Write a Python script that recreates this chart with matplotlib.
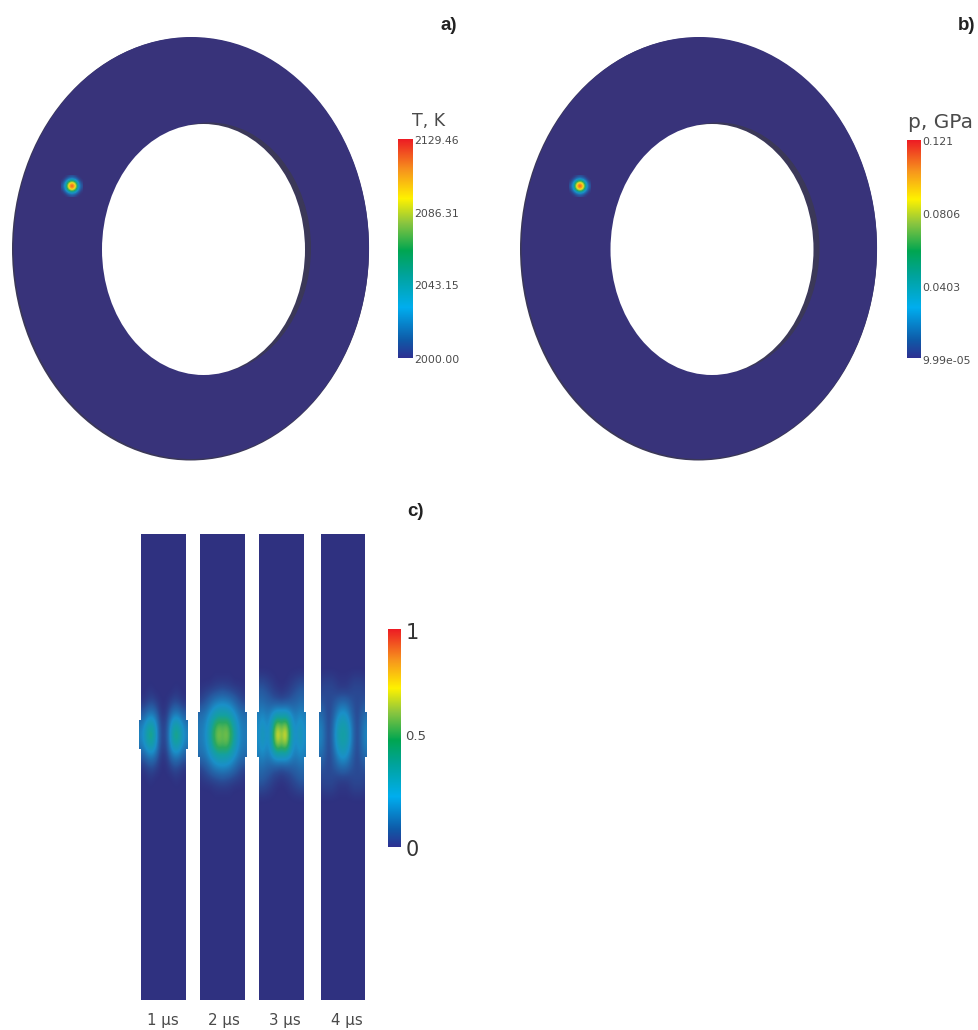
import numpy as np
import matplotlib
matplotlib.use('Agg')
import matplotlib.pyplot as plt
from matplotlib.colors import LinearSegmentedColormap
from matplotlib.patches import Ellipse, Polygon, Rectangle

# Colour scale
escala_pos = [0.0, 0.08, 0.23, 0.38, 0.49, 0.62, 0.73, 0.86, 1.0]
escala_cor = ['#2e3192', '#0f5aa8', '#00aeef', '#00a39a', '#00a651',
              '#8dc63f', '#fff200', '#f7941d', '#ed1c24']
# the fields themselves look duller than the bars
escala_campo = ['#2f3180', '#27589f', '#1a90c8', '#14a0a0', '#2aa860',
                '#8dc63f', '#f5e020', '#f7941d', '#ed1c24']

# Colour bar labels
rotulos_T = ['2129.46', '2086.31', '2043.15', '2000.00']
rotulos_p = ['0.121', '0.0806', '0.0403', '9.99e-05']
rotulos_c = ['1', '0.5', '0']
tempos = ['1 µs', '2 µs', '3 µs', '4 µs']

# Hot spot (normalised), same in a) and b)
ponto_quente = [
    [0.00, 0.00, 0.03, 0.06, 0.03, 0.00, 0.00],
    [0.00, 0.07, 0.24, 0.32, 0.24, 0.07, 0.00],
    [0.03, 0.24, 0.66, 0.86, 0.66, 0.24, 0.03],
    [0.06, 0.32, 0.86, 1.00, 0.86, 0.32, 0.06],
    [0.03, 0.24, 0.66, 0.86, 0.66, 0.24, 0.03],
    [0.00, 0.07, 0.24, 0.32, 0.24, 0.07, 0.00],
    [0.00, 0.00, 0.03, 0.06, 0.03, 0.00, 0.00],
]

# Field in the middle part of each strip (rows top to bottom, columns left to right)
campo_1 = [
    [0.00, 0.00, 0.00, 0.00, 0.00, 0.00, 0.00, 0.00, 0.00, 0.00, 0.00, 0.00, 0.00],
    [0.00, 0.00, 0.00, 0.00, 0.00, 0.00, 0.00, 0.00, 0.00, 0.00, 0.00, 0.00, 0.00],
    [0.00, 0.00, 0.01, 0.01, 0.00, 0.00, 0.00, 0.00, 0.00, 0.01, 0.01, 0.00, 0.00],
    [0.01, 0.02, 0.04, 0.05, 0.03, 0.01, 0.00, 0.01, 0.03, 0.05, 0.04, 0.02, 0.01],
    [0.08, 0.10, 0.15, 0.16, 0.11, 0.03, 0.01, 0.03, 0.11, 0.16, 0.15, 0.10, 0.08],
    [0.16, 0.22, 0.32, 0.34, 0.24, 0.07, 0.03, 0.07, 0.24, 0.34, 0.32, 0.22, 0.16],
    [0.20, 0.28, 0.44, 0.46, 0.29, 0.08, 0.04, 0.08, 0.29, 0.46, 0.44, 0.28, 0.20],
    [0.16, 0.22, 0.32, 0.34, 0.24, 0.07, 0.03, 0.07, 0.24, 0.34, 0.32, 0.22, 0.16],
    [0.08, 0.10, 0.15, 0.16, 0.11, 0.03, 0.01, 0.03, 0.11, 0.16, 0.15, 0.10, 0.08],
    [0.01, 0.02, 0.04, 0.05, 0.03, 0.01, 0.00, 0.01, 0.03, 0.05, 0.04, 0.02, 0.01],
    [0.00, 0.00, 0.01, 0.01, 0.00, 0.00, 0.00, 0.00, 0.00, 0.01, 0.01, 0.00, 0.00],
    [0.00, 0.00, 0.00, 0.00, 0.00, 0.00, 0.00, 0.00, 0.00, 0.00, 0.00, 0.00, 0.00],
    [0.00, 0.00, 0.00, 0.00, 0.00, 0.00, 0.00, 0.00, 0.00, 0.00, 0.00, 0.00, 0.00],
]
campo_2 = [
    [0.00, 0.00, 0.00, 0.00, 0.00, 0.00, 0.00, 0.00, 0.00, 0.00, 0.00, 0.00, 0.00],
    [0.00, 0.00, 0.00, 0.00, 0.01, 0.01, 0.01, 0.01, 0.01, 0.00, 0.00, 0.00, 0.00],
    [0.01, 0.02, 0.03, 0.04, 0.05, 0.06, 0.07, 0.06, 0.05, 0.04, 0.03, 0.02, 0.01],
    [0.04, 0.06, 0.09, 0.13, 0.17, 0.19, 0.20, 0.19, 0.17, 0.13, 0.09, 0.06, 0.04],
    [0.13, 0.14, 0.18, 0.24, 0.30, 0.34, 0.34, 0.34, 0.30, 0.24, 0.18, 0.14, 0.13],
    [0.16, 0.18, 0.24, 0.36, 0.48, 0.54, 0.52, 0.54, 0.48, 0.36, 0.24, 0.18, 0.16],
    [0.17, 0.19, 0.27, 0.42, 0.53, 0.62, 0.56, 0.62, 0.53, 0.42, 0.27, 0.19, 0.17],
    [0.16, 0.18, 0.24, 0.36, 0.48, 0.54, 0.52, 0.54, 0.48, 0.36, 0.24, 0.18, 0.16],
    [0.13, 0.14, 0.18, 0.24, 0.30, 0.34, 0.34, 0.34, 0.30, 0.24, 0.18, 0.14, 0.13],
    [0.04, 0.06, 0.09, 0.13, 0.17, 0.19, 0.20, 0.19, 0.17, 0.13, 0.09, 0.06, 0.04],
    [0.01, 0.02, 0.03, 0.04, 0.05, 0.06, 0.07, 0.06, 0.05, 0.04, 0.03, 0.02, 0.01],
    [0.00, 0.00, 0.00, 0.00, 0.01, 0.01, 0.01, 0.01, 0.01, 0.00, 0.00, 0.00, 0.00],
    [0.00, 0.00, 0.00, 0.00, 0.00, 0.00, 0.00, 0.00, 0.00, 0.00, 0.00, 0.00, 0.00],
]
campo_3 = [
    [0.00, 0.00, 0.00, 0.00, 0.00, 0.00, 0.00, 0.00, 0.00, 0.00, 0.00, 0.00, 0.00],
    [0.04, 0.04, 0.03, 0.02, 0.01, 0.00, 0.00, 0.00, 0.01, 0.02, 0.03, 0.04, 0.04],
    [0.09, 0.09, 0.07, 0.05, 0.03, 0.02, 0.01, 0.02, 0.03, 0.05, 0.07, 0.09, 0.09],
    [0.13, 0.13, 0.11, 0.10, 0.08, 0.07, 0.06, 0.07, 0.08, 0.10, 0.11, 0.13, 0.13],
    [0.18, 0.20, 0.17, 0.18, 0.24, 0.28, 0.28, 0.28, 0.24, 0.18, 0.17, 0.20, 0.18],
    [0.21, 0.27, 0.21, 0.24, 0.46, 0.60, 0.52, 0.60, 0.46, 0.24, 0.21, 0.27, 0.21],
    [0.22, 0.31, 0.23, 0.27, 0.54, 0.78, 0.62, 0.78, 0.54, 0.27, 0.23, 0.31, 0.22],
    [0.21, 0.27, 0.21, 0.24, 0.46, 0.60, 0.52, 0.60, 0.46, 0.24, 0.21, 0.27, 0.21],
    [0.18, 0.20, 0.17, 0.18, 0.24, 0.28, 0.28, 0.28, 0.24, 0.18, 0.17, 0.20, 0.18],
    [0.13, 0.13, 0.11, 0.10, 0.08, 0.07, 0.06, 0.07, 0.08, 0.10, 0.11, 0.13, 0.13],
    [0.09, 0.09, 0.07, 0.05, 0.03, 0.02, 0.01, 0.02, 0.03, 0.05, 0.07, 0.09, 0.09],
    [0.04, 0.04, 0.03, 0.02, 0.01, 0.00, 0.00, 0.00, 0.01, 0.02, 0.03, 0.04, 0.04],
    [0.00, 0.00, 0.00, 0.00, 0.00, 0.00, 0.00, 0.00, 0.00, 0.00, 0.00, 0.00, 0.00],
]
campo_4 = [
    [0.00, 0.00, 0.00, 0.00, 0.00, 0.00, 0.00, 0.00, 0.00, 0.00, 0.00, 0.00, 0.00],
    [0.02, 0.03, 0.03, 0.03, 0.02, 0.01, 0.01, 0.01, 0.02, 0.03, 0.03, 0.03, 0.02],
    [0.04, 0.05, 0.05, 0.05, 0.04, 0.03, 0.03, 0.03, 0.04, 0.05, 0.05, 0.05, 0.04],
    [0.07, 0.06, 0.05, 0.06, 0.08, 0.11, 0.12, 0.11, 0.08, 0.06, 0.05, 0.06, 0.07],
    [0.13, 0.09, 0.05, 0.07, 0.14, 0.22, 0.25, 0.22, 0.14, 0.07, 0.05, 0.09, 0.13],
    [0.18, 0.12, 0.05, 0.09, 0.21, 0.31, 0.34, 0.31, 0.21, 0.09, 0.05, 0.12, 0.18],
    [0.20, 0.13, 0.05, 0.10, 0.24, 0.36, 0.38, 0.36, 0.24, 0.10, 0.05, 0.13, 0.20],
    [0.18, 0.12, 0.05, 0.09, 0.21, 0.31, 0.34, 0.31, 0.21, 0.09, 0.05, 0.12, 0.18],
    [0.13, 0.09, 0.05, 0.07, 0.14, 0.22, 0.25, 0.22, 0.14, 0.07, 0.05, 0.09, 0.13],
    [0.07, 0.06, 0.05, 0.06, 0.08, 0.11, 0.12, 0.11, 0.08, 0.06, 0.05, 0.06, 0.07],
    [0.04, 0.05, 0.05, 0.05, 0.04, 0.03, 0.03, 0.03, 0.04, 0.05, 0.05, 0.05, 0.04],
    [0.02, 0.03, 0.03, 0.03, 0.02, 0.01, 0.01, 0.01, 0.02, 0.03, 0.03, 0.03, 0.02],
    [0.00, 0.00, 0.00, 0.00, 0.00, 0.00, 0.00, 0.00, 0.00, 0.00, 0.00, 0.00, 0.00],
]
campos = [campo_1, campo_2, campo_3, campo_4]

COR_ANEL = '#38337a'
COR_BORDA = '#3b3858'
COR_FAIXA = '#2f3180'
COR_TEXTO = '#4a4a4a'
FONTE = 'DejaVu Sans'


def faz_cmap(cores, cor_fundo):
    lista = [cor_fundo] + cores[1:]
    return LinearSegmentedColormap.from_list('esc', list(zip(escala_pos, lista)), N=512)


fig = plt.figure(figsize=(9.79, 10.30), dpi=100, facecolor='white')
# everything below is placed in image pixels
ax = fig.add_axes([0, 0, 1, 1])
ax.axis('off')


def anel(cx, cy, furo_x, furo_y, pt_x, pt_y):
    ax.add_patch(Ellipse((cx, cy + 0.5), 357, 423, fc=COR_BORDA, ec='none', zorder=1))
    ax.add_patch(Ellipse((cx + 0.8, cy - 0.5), 355.5, 422, fc=COR_ANEL, ec='none', zorder=2))
    ax.add_patch(Ellipse((furo_x + 6, furo_y - 1.5), 203, 251, fc=COR_BORDA, ec='none', zorder=3))
    ax.add_patch(Ellipse((furo_x, furo_y), 203, 251, fc='white', ec='none', zorder=4))
    ax.imshow(ponto_quente, cmap=faz_cmap(escala_campo, COR_ANEL), vmin=0, vmax=1, aspect='auto',
              interpolation='bicubic', zorder=5,
              extent=(pt_x - 11, pt_x + 11, pt_y + 11, pt_y - 11))


def barra(x0, x1, y0, y1):
    grad = np.linspace(1, 0, 256).reshape(-1, 1)
    ax.imshow(grad, cmap=faz_cmap(escala_cor, escala_cor[0]), vmin=0, vmax=1, aspect='auto',
              extent=(x0, x1, y1, y0), zorder=5)


def letra(x, y, s):
    ax.text(x, y, s, fontsize=13.5, family='Liberation Sans', weight='bold',
            color='#222222', ha='center', va='center')


# a) temperature
anel(190.5, 248.5, 203.5, 249.5, 72, 186)
barra(398, 413, 139, 358)
ax.text(429, 121, 'T, K', fontsize=12.5, family=FONTE, color=COR_TEXTO, ha='center', va='center')
for y, r in zip([141, 214, 286, 360], rotulos_T):
    ax.text(414, y, r, fontsize=7.8, family=FONTE, color=COR_TEXTO, va='center')
letra(449, 25, 'a)')

# b) pressure
anel(698.5, 248.5, 712, 249.5, 580, 186)
barra(907, 921, 140, 358)
ax.text(941, 122, 'p, GPa', fontsize=14.5, family=FONTE, color=COR_TEXTO, ha='center', va='center')
for y, r in zip([142, 215, 288, 361], rotulos_p):
    ax.text(922, y, r, fontsize=7.8, family=FONTE, color=COR_TEXTO, va='center')
letra(967, 25, 'b)')

# c) strips
faixas_x = [(141, 186), (200, 245), (259, 304), (321, 365)]
abas_y = [(720, 749), (712, 757), (712, 757), (712, 757)]
rotulos_x = [163, 224, 285, 347]
cmap_faixa = faz_cmap(escala_campo, COR_FAIXA)
for (x0, x1), (a0, a1), campo, t, tx in zip(faixas_x, abas_y, campos, tempos, rotulos_x):
    ax.add_patch(Rectangle((x0, 534), x1 - x0, 466, fc=COR_FAIXA, ec='none', zorder=2))
    im = ax.imshow(campo, cmap=cmap_faixa, vmin=0, vmax=1, aspect='auto', interpolation='bicubic',
                   extent=(x0 - 2, x1 + 2, 806, 664), zorder=3)
    contorno = Polygon([(x0, 664), (x1, 664), (x1, a0), (x1 + 2, a0), (x1 + 2, a1), (x1, a1),
                        (x1, 806), (x0, 806), (x0, a1), (x0 - 2, a1), (x0 - 2, a0), (x0, a0)],
                       closed=True, transform=ax.transData)
    im.set_clip_path(contorno)
    ax.text(tx, 1021, t, fontsize=10.8, family=FONTE, color=COR_TEXTO, ha='center', va='center')

barra(388, 401, 629, 847)
ax.text(406, 633, rotulos_c[0], fontsize=15, family=FONTE, color='#333333', va='center')
ax.text(405, 736, rotulos_c[1], fontsize=9.5, family=FONTE, color=COR_TEXTO, va='center')
ax.text(406, 850, rotulos_c[2], fontsize=15, family=FONTE, color='#333333', va='center')
letra(416, 512, 'c)')

ax.set_xlim(0, 979)
ax.set_ylim(1030, 0)

fig.savefig('out.png', dpi=100, facecolor='white')
